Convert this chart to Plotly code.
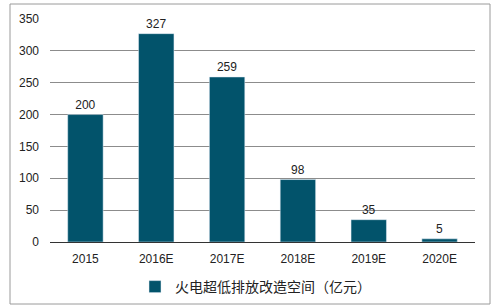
import plotly.graph_objects as go

categories = ["2015", "2016E", "2017E", "2018E", "2019E", "2020E"]
values = [200, 327, 259, 98, 35, 5]
series_name = "火电超低排放改造空间（亿元）"
y_ticks = [0, 50, 100, 150, 200, 250, 300, 350]

W, H = 498, 307
ml, mr, mt, mb = 50, 23, 19, 65
pw = W - ml - mr
ph = H - mt - mb

def px_x(x):
    return (x - ml) / pw

def px_y(y):
    return (H - mb - y) / ph

fig = go.Figure()
fig.add_trace(go.Bar(
    x=categories, y=values, name=series_name,
    marker_color="#02536B",
    text=[str(v) for v in values], textposition="outside",
    textfont=dict(size=12, color="#222222"),
    cliponaxis=False,
))

fig.update_layout(
    width=W, height=H,
    margin=dict(l=ml, r=mr, t=mt, b=mb, autoexpand=False),
    paper_bgcolor="white", plot_bgcolor="white",
    font=dict(family="Liberation Sans, Noto Sans CJK SC, sans-serif", size=12, color="#222222"),
    bargap=0.5,
    showlegend=True,
    legend=dict(orientation="h", x=px_x(135), xanchor="left", y=px_y(271), yanchor="top",
                font=dict(size=14, family="Noto Sans CJK SC, Liberation Sans, sans-serif"),
                itemwidth=30, bgcolor="rgba(0,0,0,0)"),
    xaxis=dict(showgrid=False, showline=True, linecolor="#333333", linewidth=1,
               ticks="outside", ticklen=6, tickcolor="rgba(0,0,0,0)", tickfont=dict(size=12),
               automargin=False),
    yaxis=dict(range=[0, 350], tickvals=y_ticks, showgrid=True, gridcolor="#8c8c8c",
               gridwidth=1, zeroline=True, zerolinecolor="#333333", zerolinewidth=1,
               ticks="", tickfont=dict(size=12), ticklabelstandoff=10, automargin=False),
)

fig.add_shape(type="rect", xref="paper", yref="paper",
              x0=px_x(10), x1=px_x(490), y0=px_y(304), y1=px_y(4),
              line=dict(color="#9a9a9a", width=1), fillcolor="rgba(0,0,0,0)", layer="below")

fig.write_html("out.html")
